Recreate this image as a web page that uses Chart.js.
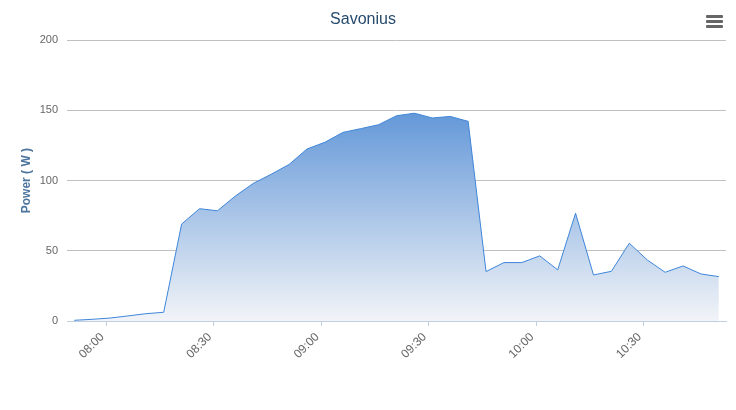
<!DOCTYPE html>
<html>
<head>
<meta charset="utf-8">
<title>Savonius</title>
<script src="https://cdn.jsdelivr.net/npm/chart.js@4/dist/chart.umd.min.js"></script>
<style>
    body { margin: 0; background: #fff; }
    #wrap { width: 736px; height: 410px; }
</style>
</head>
<body>
<div id="wrap"><canvas id="powerChart" width="736" height="410"></canvas></div>
<script>
// sample times (every 5 minutes) and measured power
const times = [
    '07:51', '07:56', '08:01', '08:06', '08:11', '08:16', '08:21', '08:26', '08:31', '08:36',
    '08:41', '08:46', '08:51', '08:56', '09:01', '09:06', '09:11', '09:16', '09:21', '09:26',
    '09:31', '09:36', '09:41', '09:46', '09:51', '09:56', '10:01', '10:06', '10:11', '10:16',
    '10:21', '10:26', '10:31', '10:36', '10:41', '10:46', '10:51'
];
const power = [
    0.5, 1.2, 2.1, 3.6, 5.2, 6.2, 69, 80, 78.5, 89,
    98, 104.5, 111.5, 122.5, 127.3, 134.3, 137, 139.8, 146.2, 148,
    144.6, 145.7, 142.2, 35.2, 41.6, 41.6, 46.4, 36.4, 76.8, 32.8,
    35.4, 55.4, 43.5, 34.7, 39.2, 33.5, 31.6
];
const tickLabels = ['08:00', '08:30', '09:00', '09:30', '10:00', '10:30'];
const yTicks = [0, 50, 100, 150, 200];

function toMinutes(t) {
    const parts = t.split(':');
    return parseInt(parts[0], 10) * 60 + parseInt(parts[1], 10);
}

const points = times.map((t, i) => ({ x: toMinutes(t), y: power[i] }));
const tickMinutes = tickLabels.map(toMinutes);
const firstMin = toMinutes(times[0]);
const lastMin = toMinutes(times[times.length - 1]);

const font = '"Liberation Sans", Arial, sans-serif';

// the little export-menu icon in the top right corner
const menuIcon = {
    id: 'menuIcon',
    afterDraw(chart) {
        const ctx = chart.ctx;
        ctx.save();
        ctx.fillStyle = '#666666';
        [15, 20, 25].forEach(y => {
            ctx.beginPath();
            ctx.roundRect(706, y, 17, 3, 1);
            ctx.fill();
        });
        ctx.restore();
    }
};

function areaGradient(context) {
    const chart = context.chart;
    const area = chart.chartArea;
    if (!area) return 'rgba(100,150,215,0.5)';
    const top = chart.scales.y.getPixelForValue(Math.max(...power));
    const g = chart.ctx.createLinearGradient(0, top, 0, area.bottom);
    g.addColorStop(0, 'rgb(100,152,216)');
    g.addColorStop(1, 'rgb(242,244,248)');
    return g;
}

new Chart(document.getElementById('powerChart'), {
    type: 'line',
    data: {
        datasets: [{
            label: 'Savonius',
            data: points,
            borderColor: '#3f86d9',
            borderWidth: 1,
            backgroundColor: areaGradient,
            fill: 'origin',
            tension: 0,
            pointRadius: 0,
            pointHoverRadius: 0
        }]
    },
    options: {
        responsive: false,
        animation: false,
        layout: { padding: { left: 0, right: 10, top: 0, bottom: 0 } },
        plugins: {
            legend: { display: false },
            tooltip: { enabled: false },
            title: {
                display: true,
                text: 'Savonius',
                color: '#274b6d',
                font: { family: font, size: 16, weight: 'normal' },
                padding: { top: 10, bottom: 11 }
            }
        },
        scales: {
            x: {
                type: 'linear',
                min: firstMin - 2,
                max: lastMin + 2,
                afterBuildTicks: axis => {
                    axis.ticks = tickMinutes.map(v => ({ value: v }));
                },
                afterFit: axis => { axis.height = 89; },
                border: { display: true, color: '#c0d0e0', width: 1 },
                grid: {
                    drawOnChartArea: false,
                    drawTicks: true,
                    tickLength: 5,
                    color: '#c0d0e0'
                },
                ticks: {
                    autoSkip: false,
                    minRotation: 45,
                    maxRotation: 45,
                    padding: 4,
                    labelOffset: -4,
                    color: '#666666',
                    font: { family: font, size: 12 },
                    callback: (value, index) => tickLabels[index]
                }
            },
            y: {
                min: yTicks[0],
                max: yTicks[yTicks.length - 1],
                afterFit: axis => { axis.width = 67; },
                border: { display: false },
                grid: {
                    drawTicks: false,
                    color: ctx => ctx.tick && ctx.tick.value === 0 ? 'rgba(0,0,0,0)' : '#c0c0c0'
                },
                ticks: {
                    stepSize: 50,
                    padding: 9,
                    color: '#666666',
                    font: { family: font, size: 11 }
                },
                title: {
                    display: true,
                    text: 'Power ( W )',
                    color: '#4d759e',
                    font: { family: font, size: 12, weight: 'bold' },
                    padding: { top: 19, bottom: 0 }
                }
            }
        }
    },
    plugins: [menuIcon]
});
</script>
</body>
</html>
